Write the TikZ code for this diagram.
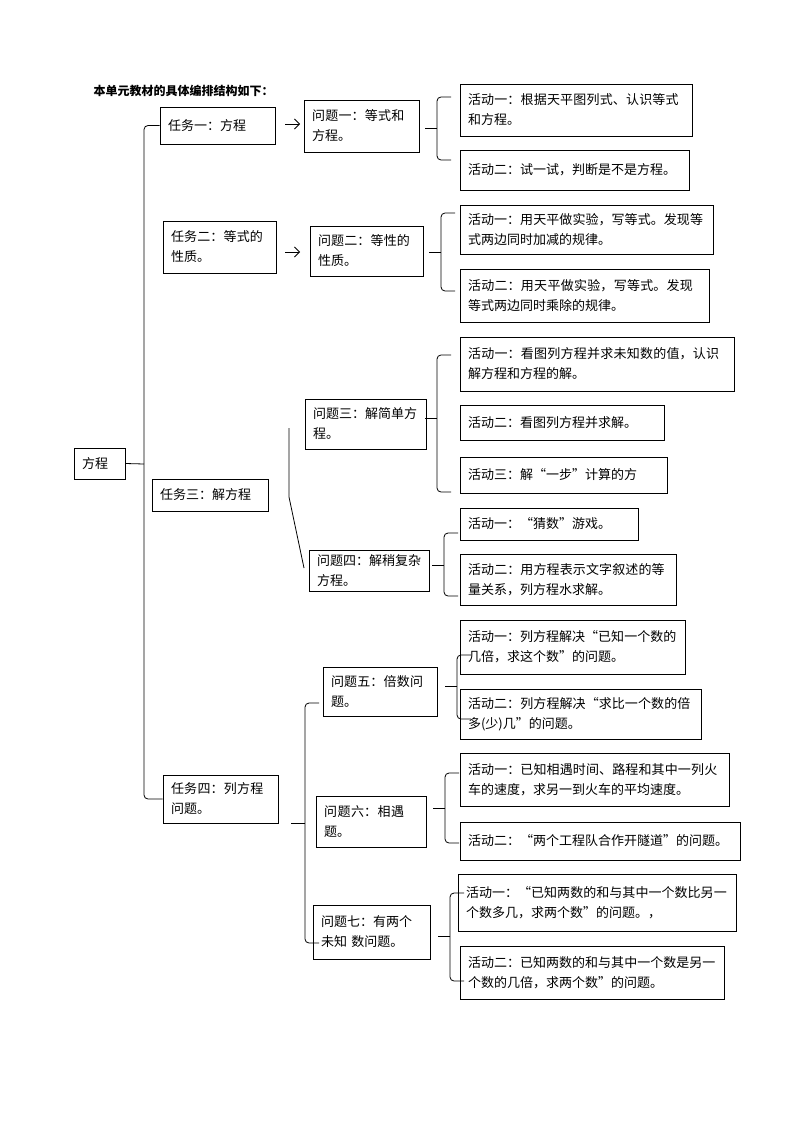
\documentclass[tikz,border=0pt]{standalone}
\usepackage{fontspec}
\setmainfont{Noto Sans CJK SC}
\usetikzlibrary{arrows.meta}
\XeTeXlinebreaklocale "zh"
\XeTeXlinebreakskip=0pt plus 1pt
\begin{document}
\begin{tikzpicture}[x=1pt,y=-1pt,
  box/.style={draw,line width=0.8pt,align=left,inner sep=0pt,font=\fontsize{13}{20}\selectfont},
  ln/.style={line width=0.8pt}]
\useasboundingbox (0,0) rectangle (794,1123);
\newcommand\bx[6]{%
  \pgfmathsetmacro\bw{#4-#2}\pgfmathsetmacro\bh{#5-#3}\pgfmathsetmacro\tw{#4-#2-16}%
  \node[box,minimum width=\bw pt,minimum height=\bh pt,text width=\tw pt] (#1) at ({(#2+#4)/2},{(#3+#5)/2}) {#6};}
\newcommand\brk[4]{% x, top, bottom, mid
  \draw[ln,rounded corners=4] (#1+14,#2) -- (#1,#2) -- (#1,#3) -- (#1+14,#3);
  \draw[ln] (#1,#4) -- (#1-12,#4);}
\node[anchor=west,font=\bfseries\fontsize{12}{14}\selectfont] (title) at (90,91) {本单元教材的具体编排结构如下：};
\bx{root}{74}{448}{125}{479}{方程}
\bx{t1}{160}{107}{275}{144}{任务一：方程}
\bx{t2}{163}{221}{276}{273}{任务二：等式的性质。}
\bx{t3}{152}{479}{268}{511}{任务三：解方程}
\bx{t4}{163}{775}{278}{823}{任务四：列方程问题。}
\bx{q1}{304}{100}{419}{152}{问题一：等式和方程。}
\bx{q2}{310}{226}{423}{276}{问题二：等性的性质。}
\bx{q3}{305}{399}{426}{449}{问题三：解简单方程。}
\bx{q4}{309}{550}{429}{591}{问题四：解稍复杂方程。}
\bx{q5}{323}{667}{437}{716}{问题五：倍数问题。}
\bx{q6}{316}{796}{426}{847}{问题六：相遇题。}
\bx{q7}{313}{905}{430}{959}{问题七：有两个\\未知\ 数问题。}
\bx{a11}{460}{84}{692}{136}{活动一：根据天平图列式、认识等式和方程。}
\bx{a12}{460}{150}{689}{190}{活动二：试一试，判断是不是方程。}
\bx{a21}{460}{205}{713}{254}{活动一：用天平做实验，写等式。发现等式两边同时加减的规律。}
\bx{a22}{460}{269}{709}{322}{活动二：用天平做实验，写等式。发现等式两边同时乘除的规律。}
\bx{a31}{460}{337}{734}{391}{活动一：看图列方程并求未知数的值，认识解方程和方程的解。}
\bx{a32}{460}{405}{664}{440}{活动二：看图列方程并求解。}
\bx{a33}{460}{457}{667}{493}{活动三：解“一步”计算的方}
\bx{a41}{460}{508}{638}{540}{活动一：“猜数”游戏。}
\bx{a42}{460}{554}{676}{605}{活动二：用方程表示文字叙述的等量关系，列方程水求解。}
\bx{a51}{460}{620}{685}{674}{活动一：列方程解决“已知一个数的几倍，求这个数”的问题。}
\bx{a52}{460}{689}{701}{739}{活动二：列方程解决“求比一个数的倍多(少)几”的问题。}
\bx{a61}{460}{753}{729}{806}{活动一：已知相遇时间、路程和其中一列火车的速度，求另一到火车的平均速度。}
\bx{a62}{460}{822}{740}{860}{活动二：“两个工程队合作开隧道”的问题。}
\bx{a71}{458}{874}{736}{931}{活动一：“已知两数的和与其中一个数比另一个数多几，求两个数”的问题。，}
\bx{a72}{460}{946}{724}{999}{活动二：已知两数的和与其中一个数是另一个数的几倍，求两个数”的问题。}
% main bracket
\draw[ln,rounded corners=4] (t1.west) -- (144,125.5) -- (144,799) -- (t4.west);
\draw[ln] (144,464) -- (root.east);
% arrows
\draw[ln,-{Straight Barb[length=5pt,width=10pt]}] (285,124) -- (300,124);
\draw[ln,-{Straight Barb[length=5pt,width=10pt]}] (285,252) -- (300,252);
% task 3 line
\draw[ln] (289,428) -- (289,497) -- (304,568);
% task 4 bracket
\draw[ln,rounded corners=4] (319,703) -- (305,703) -- (305,943) -- (319,943);
\draw[ln] (305,823) -- (291,823);
% problem brackets
\brk{437}{97}{160}{128}
\brk{441}{213}{291}{252}
\brk{437}{355}{492}{418}
\brk{444}{533}{596}{565}
\brk{457}{655}{719}{686}
\brk{445}{773}{843}{808}
\brk{450}{893}{981}{936}
\end{tikzpicture}
\end{document}
